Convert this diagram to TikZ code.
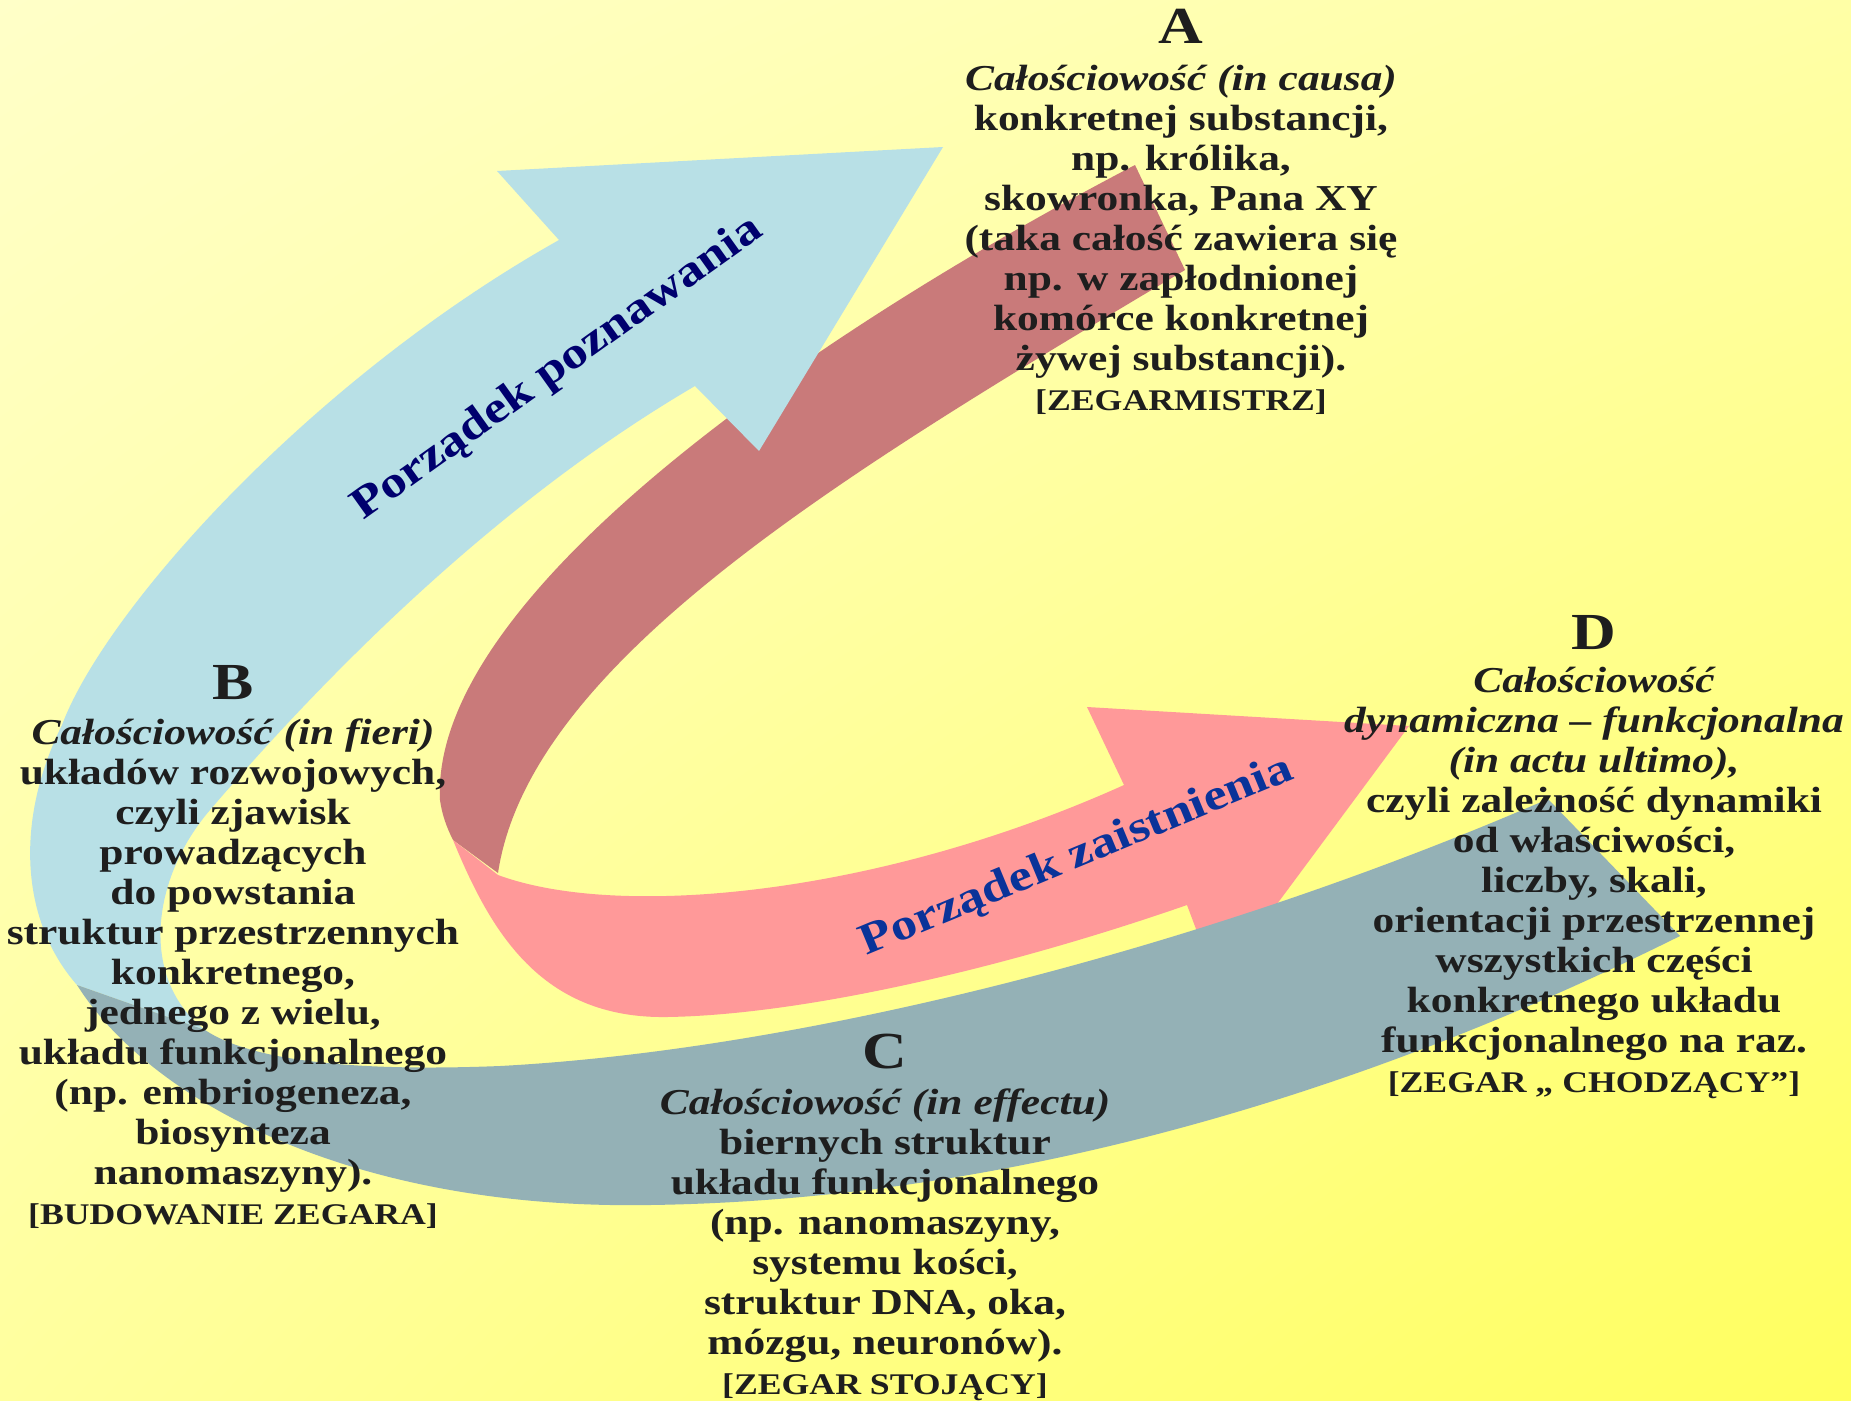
\documentclass[tikz,border=0pt]{standalone}
\usepackage{fontspec}
\setmainfont{Liberation Serif}[FakeStretch=1.19]
\usetikzlibrary{shadings}
\definecolor{bgUL}{HTML}{FFFFC8}
\definecolor{bgUR}{HTML}{FFFFA6}
\definecolor{bgLL}{HTML}{FFFF9E}
\definecolor{bgLR}{HTML}{FFFF5E}
\definecolor{lightblue}{HTML}{B8E0E6}
\definecolor{grayblue}{HTML}{94B1B6}
\definecolor{darkrose}{HTML}{C97A7A}
\definecolor{pinkface}{HTML}{FF9999}
\definecolor{textc}{HTML}{1E1E1E}
\definecolor{navylab}{HTML}{00006E}
\definecolor{royallab}{HTML}{0A3399}
\newcommand\letterfont{\fontsize{52}{52}\selectfont}
\newcommand\bracketfont{\fontsize{30}{40}\selectfont}
\tikzset{
  txtblock/.style={inner sep=0pt, align=center, text=textc,
    font=\fontsize{36.5}{40}\selectfont\bfseries},
  ribbonlabel/.style={inner sep=0pt, font=\fontsize{44}{44}\selectfont\bfseries},
  lightface/.style={fill=lightblue},
  grayface/.style={fill=grayblue},
  roseface/.style={fill=darkrose},
  pinkfill/.style={fill=pinkface}
}
\begin{document}
\begin{tikzpicture}[x=1pt,y=-1pt]
\useasboundingbox (0,0) rectangle (1851,1400);
\shade[upper left=bgUL, upper right=bgUR, lower left=bgLL, lower right=bgLR] (0,0) rectangle (1851,1400);

% red ribbon: back (dark) face
\fill[roseface] (1135,165)
  .. controls (800,340) and (430,600) .. (440,800)
  .. controls (442,815) and (447,828) .. (453,840)
  -- (498,873)
  .. controls (530,660) and (850,470) .. (1185,270)
  -- cycle;
% red ribbon: front (pink) face with arrowhead
\fill[pinkfill] (453,840) -- (498,875)
  .. controls (620,920) and (880,895) .. (1124,785)
  -- (1087,707) -- (1409,726) -- (1217,985) -- (1187,905)
  .. controls (1000,970) and (800,1015) .. (667,1017)
  .. controls (540,1019) and (490,930) .. (453,840)
  -- cycle;

% blue ribbon: front (light) face with arrowhead
\fill[lightface] (943,147) -- (759,451) -- (695,386)
  .. controls (500,500) and (330,670) .. (210,810)
  .. controls (150,880) and (140,980) .. (205,1030)
  -- (77,985)
  .. controls (20,920) and (15,820) .. (62,725)
  .. controls (105,610) and (310,380) .. (559,240)
  -- (497,171) -- cycle;
% blue ribbon: back (gray) face
\fill[grayface] (205,1030) -- (77,985)
  .. controls (150,1100) and (350,1210) .. (650,1205)
  .. controls (1000,1200) and (1350,1100) .. (1680,936)
  -- (1548,799)
  .. controls (1200,950) and (800,1050) .. (500,1066)
  .. controls (350,1072) and (250,1060) .. (205,1030)
  -- cycle;

% ribbon labels
\node[ribbonlabel, text=navylab, rotate=35.5] (poznawania) at (558,369) {Porządek poznawania};
\node[ribbonlabel, text=royallab, rotate=22.5] (zaistnienia) at (1077,857) {Porządek zaistnienia};

% text blocks
\node[txtblock, anchor=north] (A) at (1181,9) {{\letterfont A}\\[7pt]
  {\itshape Całościowość (in causa)}\\
  konkretnej substancji,\\
  np. królika,\\
  skowronka, Pana XY\\
  (taka całość zawiera się\\
  np. w zapłodnionej\\
  komórce konkretnej\\
  żywej substancji).\\
  {\bracketfont [ZEGARMISTRZ]}};

\node[txtblock, anchor=north] (B) at (233,665) {{\letterfont B}\\[5pt]
  {\itshape Całościowość (in fieri)}\\
  układów rozwojowych,\\
  czyli zjawisk\\
  prowadzących\\
  do powstania\\
  struktur przestrzennych\\
  konkretnego,\\
  jednego z wielu,\\
  układu funkcjonalnego\\
  (np. embriogeneza,\\
  biosynteza\\
  nanomaszyny).\\
  {\bracketfont [BUDOWANIE ZEGARA]}};

\node[txtblock, anchor=north] (C) at (885,1034) {{\letterfont C}\\[6pt]
  {\itshape Całościowość (in effectu)}\\
  biernych struktur\\
  układu funkcjonalnego\\
  (np. nanomaszyny,\\
  systemu kości,\\
  struktur DNA, oka,\\
  mózgu, neuronów).\\
  {\bracketfont [ZEGAR STOJĄCY]}};

\node[txtblock, anchor=north] (D) at (1594,615) {{\letterfont D}\\[3pt]
  {\itshape Całościowość}\\
  {\itshape dynamiczna – funkcjonalna}\\
  {\itshape (in actu ultimo),}\\
  czyli zależność dynamiki\\
  od właściwości,\\
  liczby, skali,\\
  orientacji przestrzennej\\
  wszystkich części\\
  konkretnego układu\\
  funkcjonalnego na raz.\\
  {\bracketfont [ZEGAR „ CHODZĄCY”]}};
\end{tikzpicture}
\end{document}
